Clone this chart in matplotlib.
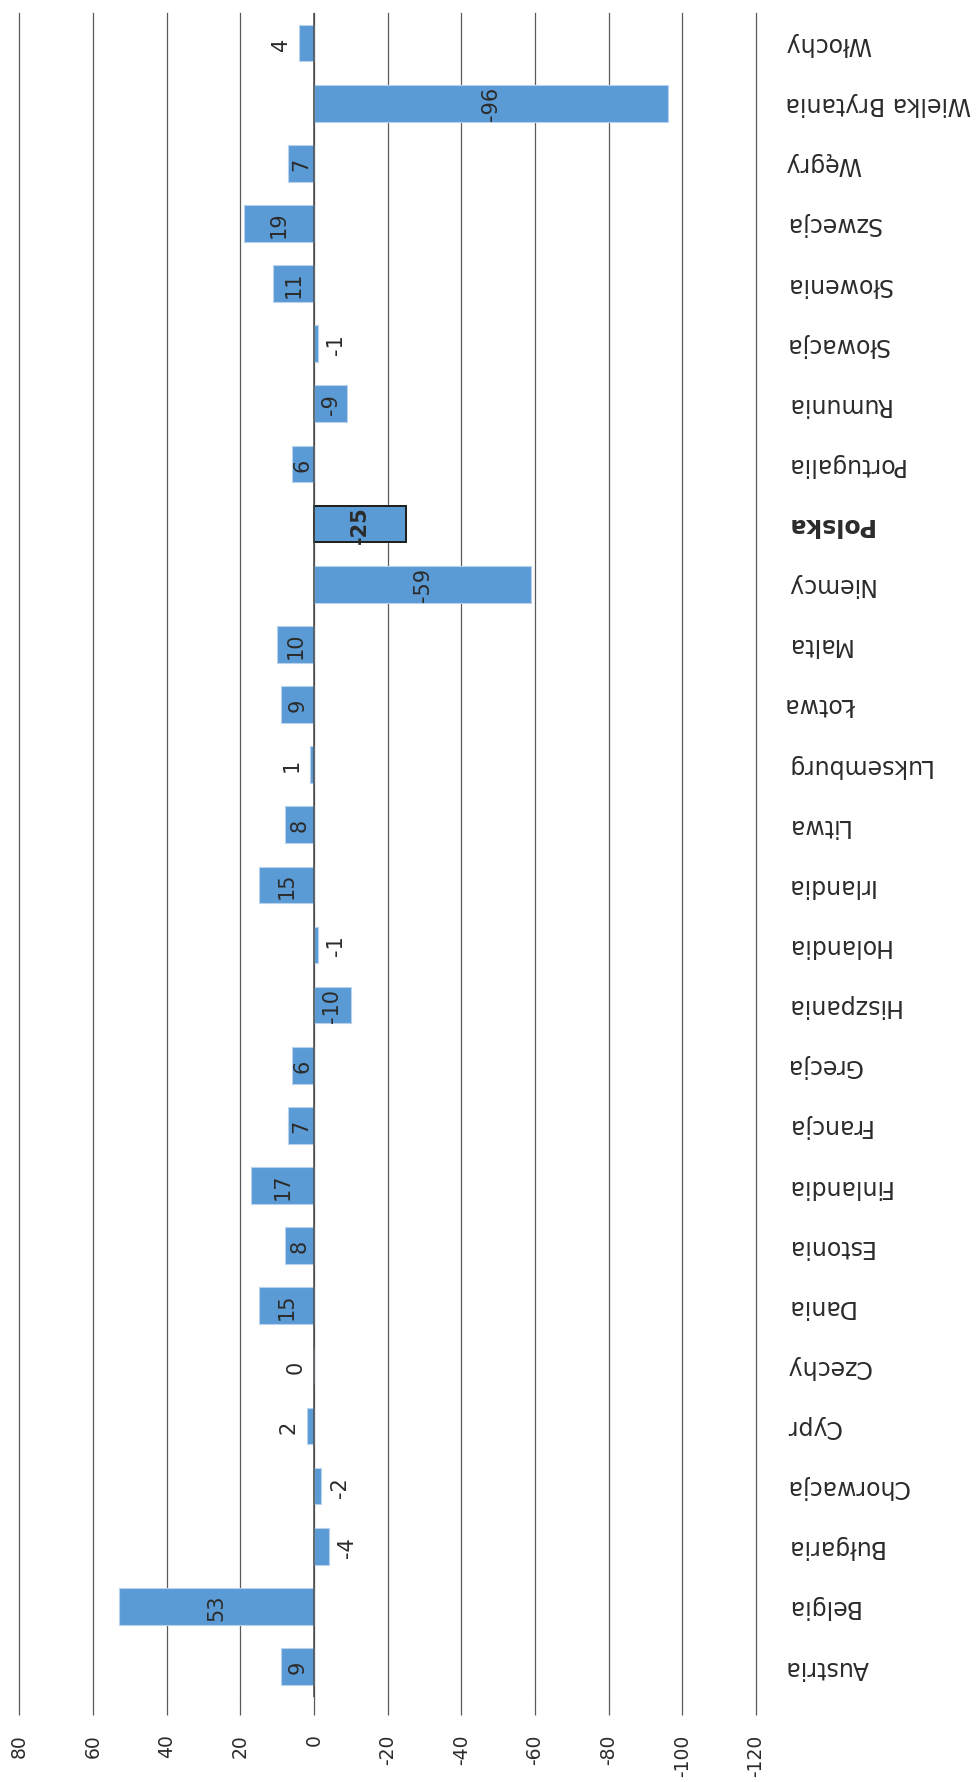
import matplotlib
matplotlib.use("Agg")
import matplotlib.pyplot as plt

# Net change per EU member state (category order from bottom to top)
countries = [
    "Austria", "Belgia", "Bułgaria", "Chorwacja", "Cypr", "Czechy", "Dania",
    "Estonia", "Finlandia", "Francja", "Grecja", "Hiszpania", "Holandia",
    "Irlandia", "Litwa", "Luksemburg", "Łotwa", "Malta", "Niemcy", "Polska",
    "Portugalia", "Rumunia", "Słowacja", "Słowenia", "Szwecja", "Węgry",
    "Wielka Brytania", "Włochy",
]
values = [
    9, 53, -4, -2, 2, 0, 15,
    8, 17, 7, 6, -10, -1,
    15, 8, 1, 9, 10, -59, -25,
    6, -9, -1, 11, 19, 7,
    -96, 4,
]
highlight = "Polska"
value_ticks = [80, 60, 40, 20, 0, -20, -40, -60, -80, -100, -120]

BAR_BLUE = "#5B9BD5"
GRID = "#5a5a5a"
TEXT = "#2b2b2b"
plt.rcParams["font.family"] = ["DejaVu Sans"]

W, H = 977, 1783
fig = plt.figure(figsize=(W / 100, H / 100), dpi=100)
left, right, top, bottom = 19.3, 756.0, 14.0, 1697.6
ax = fig.add_axes([left / W, (H - bottom) / H, (right - left) / W, (bottom - top) / H])

pos = list(range(len(countries)))
bars = ax.barh(pos, values, height=0.61, color=BAR_BLUE,
               edgecolor="#b7d1ee", linewidth=0.8, zorder=2)
for bar, name in zip(bars, countries):
    if name == highlight:
        bar.set_edgecolor("#1c1c1c")
        bar.set_linewidth(1.4)

ax.set_xlim(80, -120)
ax.set_ylim(-0.5, len(countries) - 0.5)

# value axis: vertical gridlines, ticks hanging below the plot area
ax.set_xticks(value_ticks)
ax.set_xticklabels([str(t) for t in value_ticks], rotation=90)
ax.tick_params(axis="x", direction="out", length=12.6, width=0.9, color=GRID,
               pad=14, labelsize=13.5, labelcolor=TEXT)
ax.grid(axis="x", color=GRID, linewidth=0.9, zorder=0)
ax.set_axisbelow(True)
for gl in ax.get_xgridlines():
    gl.set_clip_on(False)
for tl in ax.xaxis.get_ticklines():
    tl.set_clip_on(False)
ax.axvline(0, color="#4a4a4a", linewidth=1.1, zorder=3)

# category labels on the right, turned upside down
ax.yaxis.tick_right()
ax.set_yticks(pos)
ax.set_yticklabels(countries, rotation=180, fontsize=17, color=TEXT)
ax.tick_params(axis="y", length=0, pad=21)
for lab in ax.get_yticklabels():
    lab.set_verticalalignment("center")
    lab.set_horizontalalignment("left")
    if lab.get_text() == highlight:
        lab.set_fontweight("bold")

for s in ax.spines.values():
    s.set_visible(False)

# value labels: centred inside long bars, just past the end of short ones
for i, (name, v) in enumerate(zip(countries, values)):
    weight = "bold" if name == highlight else "normal"
    if abs(v) >= 5:
        ax.text(v / 2, i, str(v), rotation=90, ha="center", va="center",
                fontsize=15, color=TEXT, fontweight=weight, zorder=4)
    else:
        off = -6 if v >= 0 else 6
        ax.annotate(str(v), xy=(v, i), xytext=(off, 0), textcoords="offset points",
                    rotation=90, ha="right" if v >= 0 else "left", va="center",
                    fontsize=15, color=TEXT, fontweight=weight, zorder=4)

fig.savefig("out.png", dpi=100)
